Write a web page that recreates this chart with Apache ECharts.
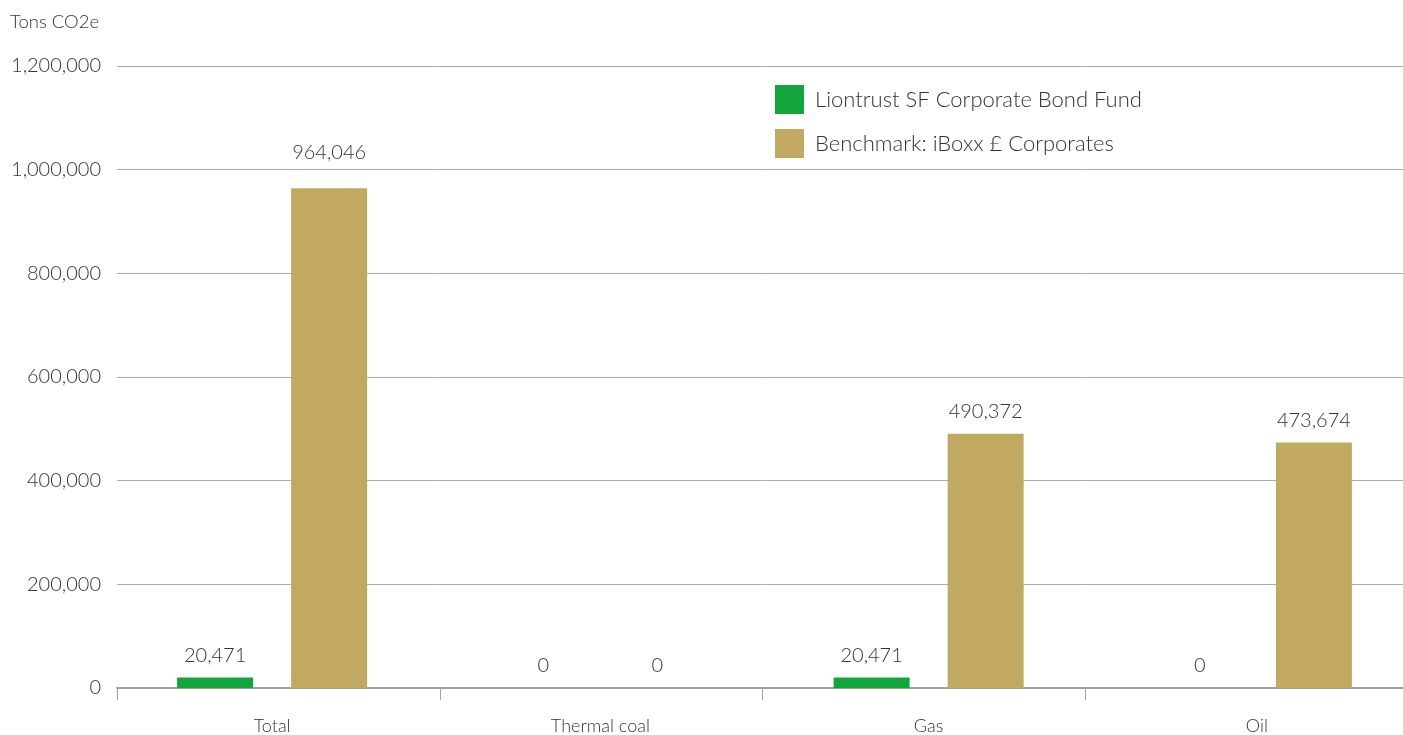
<!DOCTYPE html>
<html><head><meta charset="utf-8">
<script src="https://cdn.jsdelivr.net/npm/echarts@6/dist/echarts.min.js"></script>
<style>html,body{margin:0;padding:0;background:#fff}#c{width:1403px;height:735px}</style>
</head><body><div id="c"></div>
<script>
const categories = ['Total', 'Thermal coal', 'Gas', 'Oil'];
const fundName = 'Liontrust SF Corporate Bond Fund';
const benchName = 'Benchmark: iBoxx £ Corporates';
const fundValues = [20471, 0, 20471, 0];
const benchValues = [964046, 0, 490372, 473674];
const yTicks = [0, 200000, 400000, 600000, 800000, 1000000, 1200000];

const FONT = 'Lato';
const FW = 300;
const TXT = '#333';
const chart = echarts.init(document.getElementById('c'));
const fmt = v => v.toLocaleString('en-US');
const benchData = benchValues.map((v, i) => i === 0 ? {value: v, label: {distance: 26}} : v);
const yMin = yTicks[0], yMax = yTicks[yTicks.length - 1];
const labelStyle = {show: true, position: 'top', distance: 12, fontFamily: FONT, fontWeight: FW, fontSize: 20, color: TXT, formatter: p => fmt(p.value)};
chart.setOption({
  animation: false,
  textStyle: {fontFamily: FONT, fontWeight: FW},
  title: {text: 'Tons CO2e', left: 5, top: 8, textStyle: {fontFamily: FONT, fontSize: 18.5, fontWeight: FW, color: TXT}},
  legend: {
    left: 770, top: 80, orient: 'vertical', itemWidth: 29, itemHeight: 29, itemGap: 15,
    icon: 'rect',
    textStyle: {fontFamily: FONT, fontWeight: FW, fontSize: 22, color: TXT, padding: [0, 0, 0, 6]},
    data: [fundName, benchName]
  },
  grid: [
    {left: 117, width: 1291, top: 66, bottom: 47, containLabel: false, outerBoundsMode: 'none'},
    {left: 108, width: 1313, top: 66, bottom: 47, containLabel: false, outerBoundsMode: 'none'}
  ],
  xAxis: [
    {type: 'category', gridIndex: 0, data: categories,
     axisLine: {lineStyle: {color: '#a0a0a0', width: 2}},
     axisTick: {show: true, length: 12, lineStyle: {color: '#a0a0a0', width: 1}},
     axisLabel: {show: false}},
    {type: 'category', gridIndex: 1, data: categories,
     axisLine: {show: false}, axisTick: {show: false},
     axisLabel: {fontFamily: FONT, fontWeight: FW, fontSize: 18, color: TXT, margin: 29}}
  ],
  yAxis: [
    {type: 'value', gridIndex: 0, min: yMin, max: yMax, interval: 200000,
     axisLine: {show: false}, axisTick: {show: false},
     splitLine: {lineStyle: {color: '#aaaaaa', width: 1}},
     axisLabel: {fontFamily: FONT, fontWeight: FW, fontSize: 20, color: TXT, margin: 16, formatter: v => fmt(v)}},
    {type: 'value', gridIndex: 1, min: yMin, max: yMax, interval: 200000,
     axisLine: {show: false}, axisTick: {show: false}, splitLine: {show: false}, axisLabel: {show: false}}
  ],
  series: [
    {name: fundName, type: 'bar', xAxisIndex: 1, yAxisIndex: 1, data: fundValues, barWidth: 76, barGap: '50%',
     itemStyle: {color: '#12a53c'}, label: labelStyle, z: 3},
    {name: benchName, type: 'bar', xAxisIndex: 1, yAxisIndex: 1, data: benchData, barWidth: 76,
     itemStyle: {color: '#c2a962'}, label: labelStyle, z: 3}
  ]
});
</script></body></html>
